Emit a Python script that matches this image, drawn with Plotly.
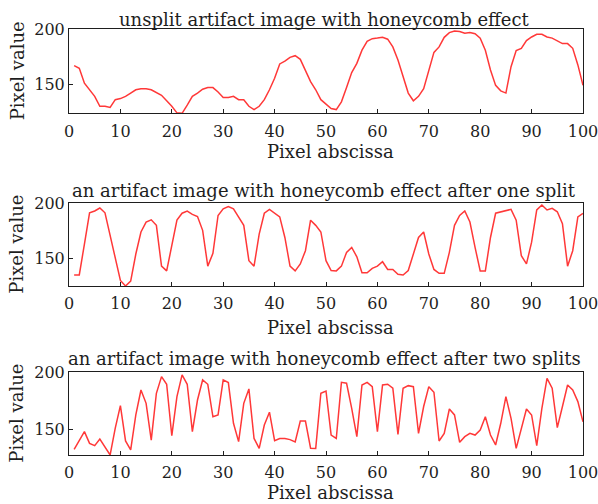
import plotly.graph_objects as go
from plotly.subplots import make_subplots

x = list(range(1, 101))

unsplit = [167, 164.5, 151, 145.5, 139, 130, 130, 129, 136, 137,
           139, 142, 145, 146, 146, 145, 142.5, 140, 135, 130,
           124, 123.6, 131, 139, 142, 145.5, 147, 147, 143, 138,
           138, 139, 136, 136, 130, 127, 130, 136, 145, 155.5,
           168.5, 171, 174.5, 176, 172.7, 163, 152.4, 145, 136, 132,
           128, 127, 134, 147, 160.6, 169, 181, 189, 191.5, 192,
           192.7, 191, 184, 172, 157, 142, 135, 139, 146, 163,
           179, 184, 192.7, 197, 198.5, 198, 196.4, 197, 196, 192,
           181, 163, 149, 144, 142, 166, 180.6, 182.7, 189.7, 193,
           195.5, 195.5, 193, 192, 189.7, 187, 187, 182.7, 167.6, 149]

one_split = [135, 135, 163, 191.4, 193, 195.7, 191.4, 171, 149, 130,
             125, 129.5, 154, 174, 183, 185, 180, 143, 138.7, 163,
             184.7, 191, 193, 190, 188, 175.5, 143, 154.6, 189, 195,
             197, 195, 187.7, 180, 148, 143, 172, 191, 194.5, 191,
             187.7, 169, 143, 138.7, 145, 157, 184.7, 180, 174, 148,
             139, 138.7, 143, 155.5, 160, 151.5, 137, 137, 141, 143,
             147, 140, 140, 135.6, 135, 139, 154.6, 169, 174, 154,
             140, 136.5, 136.5, 155.5, 180, 189, 193, 183, 160, 138.7,
             138.7, 169, 191, 192, 193, 194.5, 184.7, 152.5, 145, 164.7,
             194, 198.5, 194, 195.5, 192.3, 181.6, 143, 157, 187.7, 190.8]

two_splits = [132.5, 140.6, 148, 137.7, 135.7, 141.5, 134, 127.5, 151, 170.8,
              139.8, 132, 162.6, 184.5, 172.8, 140.6, 181.6, 196.2, 189.5, 144.4,
              178.7, 197.7, 189.5, 148, 175.7, 193.3, 189.5, 161, 162.6, 193.3,
              191, 155.3, 139.2, 172.8, 185.4, 142, 133.3, 153.8, 165, 140,
              142, 142, 141, 139, 157.3, 157.3, 133.5, 133.3, 181.6, 183.6,
              145, 142, 191.2, 190.4, 168.4, 143.6, 188.9, 191.2, 187.4, 148,
              188.9, 189.5, 186, 145.6, 186, 188.3, 187.4, 146.5, 170, 187.4,
              182.5, 139.8, 146.5, 167.8, 162.6, 138.6, 143.6, 146.5, 145, 149.4,
              161, 145, 136.3, 155.3, 178.7, 159.6, 133.3, 150.9, 167.8, 162.6,
              135.7, 168.4, 194.7, 186, 151.5, 170, 188.9, 184.5, 174.3, 156.7]

titles = ["unsplit artifact image with honeycomb effect",
          "an artifact image with honeycomb effect after one split",
          "an artifact image with honeycomb effect after two splits"]
series = [unsplit, one_split, two_splits]
y_ranges = [[123.6, 200], [125, 200], [127.5, 200]]
x_ticks = [0, 10, 20, 30, 40, 50, 60, 70, 80, 90, 100]
y_ticks = [150, 200]

W, H = 598, 504
ML, MR, MT, MB = 69, 15, 29, 49
PW, PH = W - ML - MR, H - MT - MB

# panel pixel boxes (top, bottom), title centre y, x-title centre y
boxes = [(29.3, 113.3), (203.3, 286.0), (372.3, 455.0)]
title_y = [19, 190, 358]
xtitle_y = [152, 327, 492]


def py(ypx):
    return (H - MB - ypx) / PH


def px(xpx):
    return (xpx - ML) / PW


FONT = "DejaVu Serif"
INK = "#1e1e1e"
fig = make_subplots(rows=3, cols=1)

for i, (ys, yr, (top, bot)) in enumerate(zip(series, y_ranges, boxes), start=1):
    fig.add_trace(go.Scatter(x=x, y=ys, mode="lines",
                             line=dict(color="#ff3838", width=1.5),
                             showlegend=False), row=i, col=1)
    xa = "xaxis" if i == 1 else f"xaxis{i}"
    ya = "yaxis" if i == 1 else f"yaxis{i}"
    fig.layout[xa].update(domain=[0, 1], range=[0, 100], tickvals=x_ticks,
                          ticks="inside", ticklen=4, tickcolor=INK, automargin=False,
                          ticklabeloverflow="allow", ticklabelstandoff=3,
                          showline=True, linecolor=INK, linewidth=1, mirror=True,
                          showgrid=False, zeroline=False,
                          tickfont=dict(family=FONT, size=16, color=INK))
    fig.layout[ya].update(domain=[py(bot), py(top)], range=yr, tickvals=y_ticks,
                          ticks="inside", ticklen=4, tickcolor=INK, automargin=False,
                          ticklabeloverflow="allow",
                          showline=True, linecolor=INK, linewidth=1, mirror=True,
                          showgrid=False, zeroline=False,
                          tickfont=dict(family=FONT, size=16, color=INK))
    fig.add_annotation(text=titles[i - 1], xref="paper", yref="paper",
                       x=px(324), y=py(title_y[i - 1]),
                       xanchor="center", yanchor="middle", showarrow=False,
                       font=dict(family=FONT, size=18, color=INK))
    fig.add_annotation(text="Pixel abscissa", xref="paper", yref="paper",
                       x=px(330), y=py(xtitle_y[i - 1]),
                       xanchor="center", yanchor="middle", showarrow=False,
                       font=dict(family=FONT, size=18, color=INK))
    fig.add_annotation(text="Pixel value", xref="paper", yref="paper",
                       x=px(17), y=py((top + bot) / 2), textangle=-90,
                       xanchor="center", yanchor="middle", showarrow=False,
                       font=dict(family=FONT, size=18, color=INK))

fig.update_layout(width=W, height=H,
                  margin=dict(l=ML, r=MR, t=MT, b=MB, autoexpand=False),
                  paper_bgcolor="white", plot_bgcolor="white")

fig.write_html("out.html")
